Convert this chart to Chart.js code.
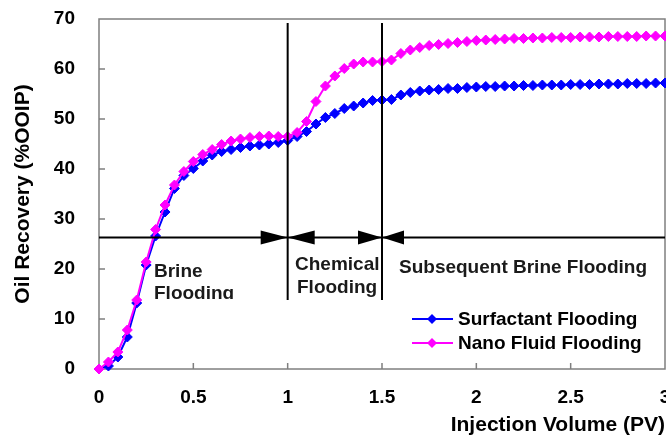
<!DOCTYPE html>
<html>
<head>
<meta charset="utf-8">
<script src="https://cdn.jsdelivr.net/npm/chart.js@4.4.1/dist/chart.umd.min.js"></script>
<style>
  html, body { margin: 0; padding: 0; background: #fff; overflow: hidden; }
  #wrap { width: 700px; height: 436px; }
</style>
</head>
<body>
<div id="wrap"><canvas id="chart" width="700" height="436"></canvas></div>
<script>
// injected pore volumes (PV)
const injectionPV = [
  0, 0.05, 0.1, 0.15, 0.2, 0.25, 0.3, 0.35, 0.4, 0.45,
  0.5, 0.55, 0.6, 0.65, 0.7, 0.75, 0.8, 0.85, 0.9, 0.95,
  1, 1.05, 1.1, 1.15, 1.2, 1.25, 1.3, 1.35, 1.4, 1.45,
  1.5, 1.55, 1.6, 1.65, 1.7, 1.75, 1.8, 1.85, 1.9, 1.95,
  2, 2.05, 2.1, 2.15, 2.2, 2.25, 2.3, 2.35, 2.4, 2.45,
  2.5, 2.55, 2.6, 2.65, 2.7, 2.75, 2.8, 2.85, 2.9, 2.95, 3
];

// oil recovery, %OOIP
const surfactant = [
  0, 0.6, 2.4, 6.4, 13.2, 20.8, 26.6, 31.4, 36.1, 38.7,
  40.1, 41.6, 42.8, 43.5, 43.9, 44.3, 44.6, 44.8, 45.0, 45.3,
  45.7, 46.5, 47.5, 49.0, 50.3, 51.1, 52.1, 52.6, 53.2, 53.7,
  53.8, 53.9, 54.8, 55.3, 55.6, 55.8, 55.9, 56.1, 56.1, 56.3,
  56.4, 56.5, 56.5, 56.6, 56.6, 56.7, 56.7, 56.8, 56.8, 56.8,
  56.9, 56.9, 56.9, 57.0, 57.0, 57.0, 57.1, 57.1, 57.1, 57.2, 57.2
];
const nanoFluid = [
  0, 1.4, 3.4, 7.8, 13.8, 21.4, 27.9, 32.8, 36.8, 39.5,
  41.5, 42.9, 43.9, 44.9, 45.6, 46.0, 46.3, 46.5, 46.6, 46.5,
  46.5, 47.3, 49.5, 53.5, 56.6, 58.6, 60.1, 61.0, 61.4, 61.4,
  61.5, 61.8, 63.1, 63.8, 64.3, 64.7, 64.9, 65.1, 65.3, 65.5,
  65.7, 65.8, 65.9, 66.0, 66.1, 66.1, 66.2, 66.2, 66.3, 66.3,
  66.3, 66.4, 66.4, 66.4, 66.5, 66.5, 66.5, 66.5, 66.6, 66.6, 66.6
];

const xTicks = [0, 0.5, 1, 1.5, 2, 2.5, 3];
const yTicks = [0, 10, 20, 30, 40, 50, 60, 70];

// stage boundaries (PV) and the level of the stage arrows (%OOIP)
const stageBounds = [1, 1.5];
const arrowLevel = 26.5;
const boundSpan = [13.8, 69.2];

const seriesNames = ['Surfactant Flooding', 'Nano Fluid Flooding'];

const FONT = 'Arial, "Liberation Sans", sans-serif';

const toPoints = vals => vals.map((v, i) => ({ x: injectionPV[i], y: v }));

function arrowHead(ctx, tipX, y, dir, len) {
  ctx.beginPath();
  ctx.moveTo(tipX, y);
  ctx.lineTo(tipX - dir * len, y - 7);
  ctx.lineTo(tipX - dir * len, y + 7);
  ctx.closePath();
  ctx.fill();
}

const stagePlugin = {
  id: 'stages',
  beforeDatasetsDraw(chart) {
    const { ctx, chartArea: a, scales: { x, y } } = chart;
    ctx.save();
    ctx.strokeStyle = '#7f7f7f';
    ctx.lineWidth = 1.5;
    ctx.strokeRect(a.left, a.top, a.right - a.left, a.bottom - a.top);
    ctx.beginPath();
    xTicks.slice(1, -1).forEach(v => {
      const px = x.getPixelForValue(v);
      ctx.moveTo(px, a.bottom);
      ctx.lineTo(px, a.bottom - 6);
    });
    yTicks.slice(1, -1).forEach(v => {
      const py = y.getPixelForValue(v);
      ctx.moveTo(a.left, py);
      ctx.lineTo(a.left + 6, py);
    });
    ctx.stroke();
    ctx.restore();
  },
  afterDatasetsDraw(chart) {
    const { ctx, chartArea: a, scales: { x, y } } = chart;
    ctx.save();
    ctx.strokeStyle = '#000';
    ctx.fillStyle = '#000';
    ctx.lineWidth = 2;

    // stage boundaries
    ctx.beginPath();
    stageBounds.forEach(b => {
      const px = x.getPixelForValue(b);
      ctx.moveTo(px, y.getPixelForValue(boundSpan[0]));
      ctx.lineTo(px, y.getPixelForValue(boundSpan[1]));
    });
    ctx.stroke();

    // stage arrows
    const ay = Math.round(y.getPixelForValue(arrowLevel)) + 0.5;
    ctx.beginPath();
    ctx.moveTo(a.left, ay);
    ctx.lineTo(a.right, ay);
    ctx.stroke();
    const b1 = x.getPixelForValue(stageBounds[0]);
    const b2 = x.getPixelForValue(stageBounds[1]);
    arrowHead(ctx, b1, ay, 1, 27);
    arrowHead(ctx, b1, ay, -1, 27);
    arrowHead(ctx, b2, ay, 1, 24);
    arrowHead(ctx, b2, ay, -1, 22);

    // stage labels
    ctx.save();
    ctx.beginPath();
    ctx.rect(a.left, a.top, a.right - a.left, 299 - a.top);
    ctx.clip();
    ctx.fillStyle = '#1a1a1a';
    ctx.font = 'bold 19px ' + FONT;
    ctx.textBaseline = 'middle';
    ctx.textAlign = 'left';
    ctx.fillText('Brine', 154, 272);
    ctx.fillText('Flooding', 154, 294);
    ctx.fillText('Chemical', 295, 265);
    ctx.fillText('Flooding', 297, 288);
    ctx.fillText('Subsequent Brine Flooding', 399, 268);
    ctx.restore();

    // legend
    ctx.font = 'bold 19px ' + FONT;
    ctx.textBaseline = 'middle';
    ctx.textAlign = 'left';
    chart.data.datasets.forEach((ds, i) => {
      const ly = 319 + i * 24;
      ctx.strokeStyle = ds.borderColor;
      ctx.lineWidth = 2;
      ctx.beginPath();
      ctx.moveTo(412, ly);
      ctx.lineTo(453, ly);
      ctx.stroke();
      ctx.fillStyle = ds.backgroundColor;
      ctx.beginPath();
      ctx.moveTo(432, ly - 5);
      ctx.lineTo(437, ly);
      ctx.lineTo(432, ly + 5);
      ctx.lineTo(427, ly);
      ctx.closePath();
      ctx.fill();
      ctx.fillStyle = '#000';
      ctx.fillText(ds.label, 458, ly + 1);
    });
    ctx.restore();
  }
};

const tickFont = { family: FONT, size: 19, weight: 'bold' };
const titleFont = { family: FONT, size: 21, weight: 'bold' };

new Chart(document.getElementById('chart'), {
  type: 'line',
  data: {
    datasets: [
      {
        label: seriesNames[0],
        data: toPoints(surfactant),
        borderColor: '#0000ff',
        backgroundColor: '#0000ff',
        borderWidth: 2,
        pointStyle: 'rectRot',
        pointRadius: 5,
        pointBorderWidth: 1,
        order: 1,
        clip: false
      },
      {
        label: seriesNames[1],
        data: toPoints(nanoFluid),
        borderColor: '#ff00ff',
        backgroundColor: '#ff00ff',
        borderWidth: 2,
        pointStyle: 'rectRot',
        pointRadius: 5,
        pointBorderWidth: 1,
        order: 0,
        clip: false
      }
    ]
  },
  options: {
    responsive: false,
    animation: false,
    layout: { padding: { top: 19, right: 35, left: 0, bottom: 0 } },
    plugins: {
      legend: { display: false },
      tooltip: { enabled: false }
    },
    scales: {
      x: {
        type: 'linear',
        min: 0,
        max: 3,
        afterBuildTicks: s => { s.ticks = xTicks.map(v => ({ value: v })); },
        afterFit: s => { s.height = 67; s.paddingLeft = 0; s.paddingRight = 0; },
        grid: { display: false, drawTicks: false },
        border: { display: false },
        ticks: {
          font: tickFont, color: '#000', padding: 17, maxRotation: 0, autoSkip: false,
          callback: v => String(v)
        },
        title: {
          display: true,
          text: 'Injection Volume (PV)',
          align: 'end',
          color: '#000',
          font: { ...titleFont, lineHeight: 1 },
          padding: { top: 0, bottom: 0 }
        }
      },
      y: {
        min: 0,
        max: 70,
        afterBuildTicks: s => { s.ticks = yTicks.map(v => ({ value: v })); },
        afterFit: s => { s.width = 99; s.paddingTop = 0; s.paddingBottom = 0; },
        grid: { display: false, drawTicks: false },
        border: { display: false },
        ticks: { font: tickFont, color: '#000', padding: 24, callback: v => String(v) },
        title: {
          display: true,
          text: 'Oil Recovery (%OOIP)',
          color: '#000',
          font: titleFont,
          padding: { top: 11, bottom: 0 }
        }
      }
    }
  },
  plugins: [stagePlugin]
});
</script>
</body>
</html>
